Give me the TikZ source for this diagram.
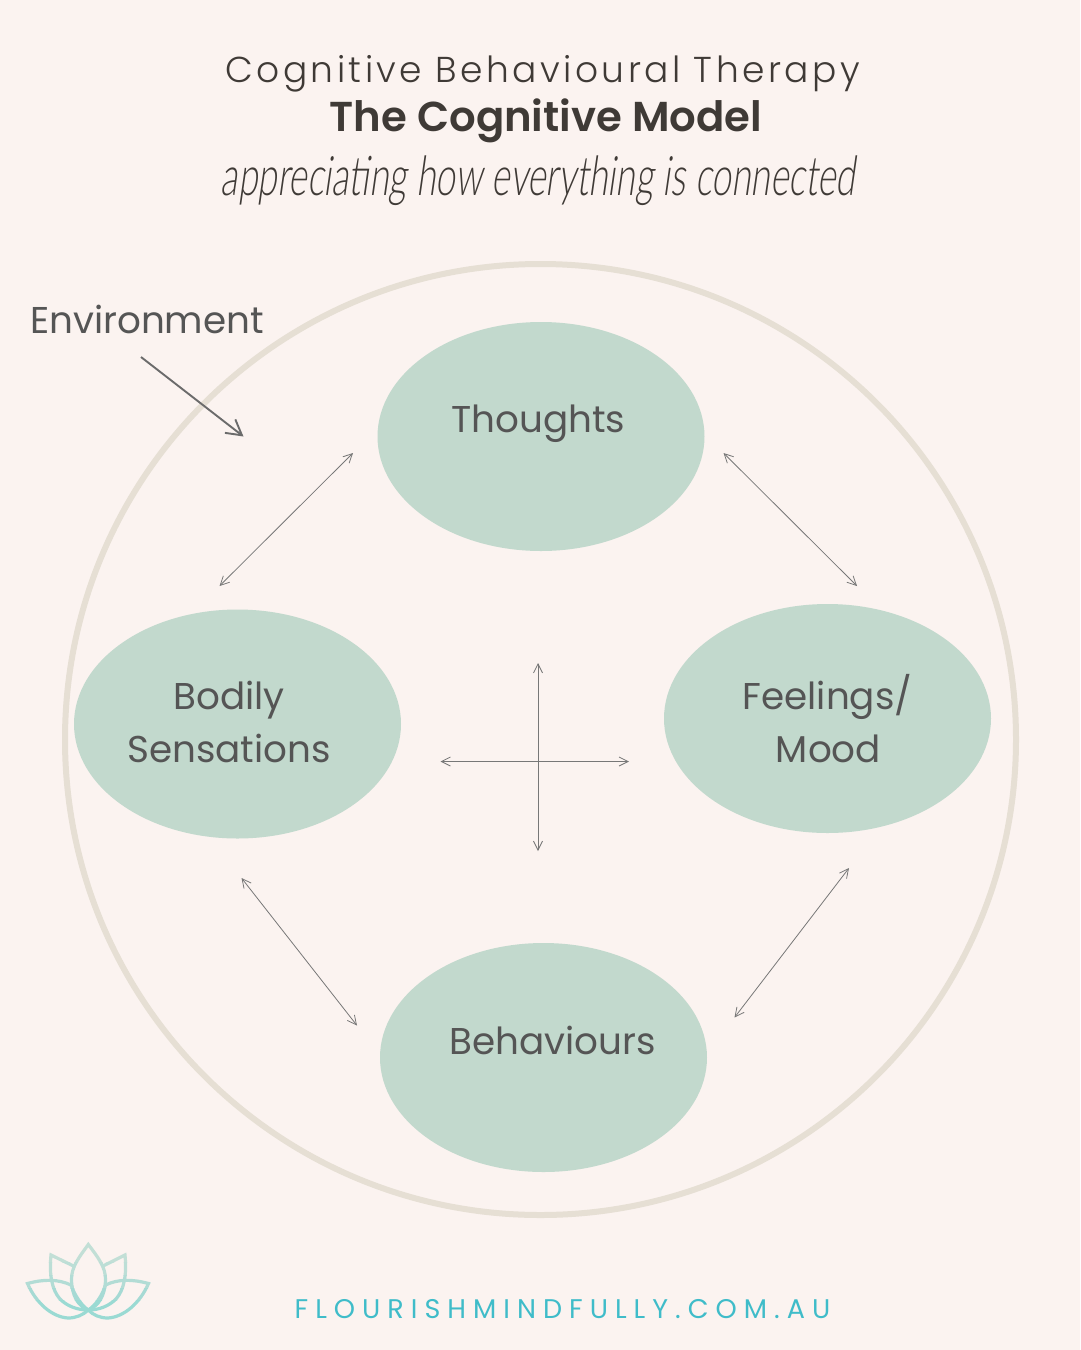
\documentclass[tikz,border=0pt]{standalone}
\usepackage{fontspec}
\setmainfont{Poppins}
\newfontfamily\lightf{Poppins Light}
\newfontfamily\boldf{Poppins SemiBold}
\newfontfamily\scriptf[FakeSlant=0.22]{Lato Light}
\usetikzlibrary{arrows.meta}
\definecolor{bg}{HTML}{FBF3F0}
\definecolor{ring}{HTML}{E6DFD4}
\definecolor{blob}{HTML}{C2D9CD}
\definecolor{ink}{HTML}{555555}
\definecolor{dark}{HTML}{3F3A36}
\definecolor{teal}{HTML}{3FBCC9}
\definecolor{arrowc}{HTML}{777777}
\begin{document}
\begin{tikzpicture}[x=1pt,y=-1pt,
  label/.style={text=ink,font=\fontsize{37.3}{53}\selectfont,align=center,inner sep=0pt},
  twoway/.style={draw=arrowc,line width=0.8pt,{Straight Barb[length=9pt,width=9pt]}-{Straight Barb[length=9pt,width=9pt]}},
  oneway/.style={draw=arrowc!90!black,line width=1.9pt,-{Straight Barb[length=15pt,width=17pt,line width=1.9pt]}},
  lot/.style={line width=3.2pt,line join=miter}]
\useasboundingbox (0,0) rectangle (1080,1350);
\fill[bg] (0,0) rectangle (1080,1350);

\draw[ring,line width=6pt] (540.5,739.5) circle [radius=475.5];

\fill[blob] (541,436.5) ellipse [x radius=163.5,y radius=114.5];
\fill[blob] (237.5,724) ellipse [x radius=163.5,y radius=114.5];
\fill[blob] (827.5,718.5) ellipse [x radius=163.5,y radius=114.5];
\fill[blob] (543.5,1057.5) ellipse [x radius=163.5,y radius=114.5];

\node[text=dark,inner sep=0pt,font=\lightf\fontsize{36}{40}\selectfont,anchor=base] (title) at (542.5,82.5) {\addfontfeature{LetterSpace=9.6}Cognitive Behavioural Therapy};
\node[text=dark,inner sep=0pt,font=\boldf\fontsize{41.8}{44}\selectfont,anchor=base] (model) at (546,131) {The Cognitive Model};
\node[text=dark,inner sep=0pt,font=\scriptf\fontsize{52}{56}\selectfont,anchor=base] (tag) at (538,195) {\scalebox{0.68}[1.05]{appreciating how everything is connected}};

\node[label,anchor=base] (env) at (147,333) {Environment};
\node[label,anchor=base] (th) at (538.5,432) {Thoughts};
\node[label,anchor=base] (bo) at (229,709) {Bodily};
\node[label,anchor=base] (se) at (229,762) {Sensations};
\node[label,anchor=base] (fe) at (827.5,709) {Feelings/};
\node[label,anchor=base] (mo) at (828.5,762) {Mood};
\node[label,anchor=base] (be) at (552.5,1054) {Behaviours};
\node[text=teal,inner sep=0pt,font=\fontsize{27}{30}\selectfont,anchor=base] (url) at (562.5,1318) {\addfontfeature{LetterSpace=26}FLOURISHMINDFULLY.COM.AU};

\coordinate (a1) at (141,357); \coordinate (a2) at (243.5,436.5);
\draw[oneway] (a1) -- (a2);
\coordinate (b1) at (353,453); \coordinate (b2) at (219.5,586);
\draw[twoway] (b1) -- (b2);
\coordinate (c1) at (723.5,453); \coordinate (c2) at (857,586);
\draw[twoway] (c1) -- (c2);
\coordinate (d1) at (241.5,878); \coordinate (d2) at (357,1025.5);
\draw[twoway] (d1) -- (d2);
\coordinate (e1) at (849,868); \coordinate (e2) at (734.5,1017.5);
\draw[twoway] (e1) -- (e2);
\coordinate (f1) at (538,663); \coordinate (f2) at (538,851);
\draw[twoway] (f1) -- (f2);
\coordinate (g1) at (440.5,761.5); \coordinate (g2) at (629,761.5);
\draw[twoway] (g1) -- (g2);

% lotus logo, banded to imitate its vertical colour gradient
\foreach \ya/\yb/\c in {1240/1262/C2DFD6,1262/1275/BCDED6,1275/1288/B2DCD5,1288/1300/A6DAD4,1300/1325/9ADAD3}{
\definecolor{lc}{HTML}{\c}
\begin{scope}
\clip (20,\ya) rectangle (160,\yb);
\begin{scope}[draw=lc,lot]
% centre petal
\draw (88.3,1244.5) .. controls (80,1256) and (71,1267) .. (71.5,1280) .. controls (72,1296) and (78,1306) .. (88.3,1310) .. controls (98.5,1306) and (105,1296) .. (105.5,1280) .. controls (106,1267) and (97,1256) .. (88.3,1244.5) -- cycle;
% middle petals
\draw (73.5,1266) -- (51,1255) .. controls (49,1275) and (52,1290) .. (60,1299) .. controls (67,1306) and (77,1310) .. (88.3,1310);
\draw (103,1266) -- (125,1255) .. controls (127,1275) and (124,1290) .. (116,1299) .. controls (109,1306) and (99,1310) .. (88.3,1310);
% outer petals
\draw (71,1285) .. controls (58,1279) and (44,1279) .. (27.5,1283.5) .. controls (36,1303) and (52,1317) .. (68,1318) .. controls (76,1318) and (83,1315) .. (88.3,1310) .. controls (82,1306) and (75,1296) .. (71,1285);
\draw (105.5,1285) .. controls (118,1279) and (132,1279) .. (148.5,1283.5) .. controls (140,1303) and (124,1317) .. (108,1318) .. controls (100,1318) and (93,1315) .. (88.3,1310) .. controls (95,1306) and (102,1296) .. (105.5,1285);
\end{scope}
\end{scope}
}
\end{tikzpicture}
\end{document}
